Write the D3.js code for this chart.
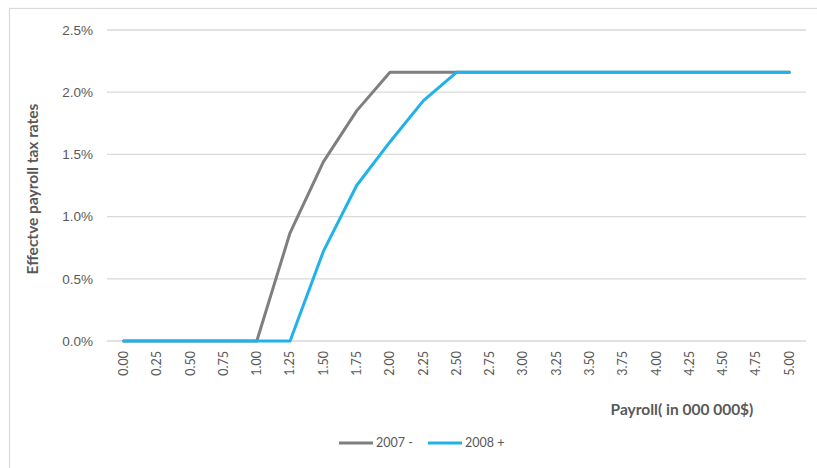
<!DOCTYPE html>
<html>
<head>
<meta charset="utf-8">
<script src="https://cdn.jsdelivr.net/npm/d3@7"></script>
<style>
  html, body { margin: 0; padding: 0; background: #fff; }
  svg { display: block; }
</style>
</head>
<body>
<script>
// Payroll levels (millions of $) and effective payroll tax rates (%)
const payroll = ["0.00","0.25","0.50","0.75","1.00","1.25","1.50","1.75","2.00","2.25","2.50",
                 "2.75","3.00","3.25","3.50","3.75","4.00","4.25","4.50","4.75","5.00"];
const rate2007 = [0,0,0,0,0,0.87,1.44,1.85,2.16,2.16,2.16,2.16,2.16,2.16,2.16,2.16,2.16,2.16,2.16,2.16,2.16];
const rate2008 = [0,0,0,0,0,0,0.72,1.25,1.60,1.93,2.16,2.16,2.16,2.16,2.16,2.16,2.16,2.16,2.16,2.16,2.16];
const yTicks = [0, 0.5, 1.0, 1.5, 2.0, 2.5];
const seriesNames = ["2007 -", "2008 +"];
const seriesColors = ["#7f7f7f", "#21b2ea"];

const W = 817, H = 468;
const margin = { left: 107, right: 11, top: 30, bottom: 127 };

const svg = d3.select("body").append("svg")
  .attr("width", W).attr("height", H);

// chart frame
svg.append("rect")
  .attr("x", 9.5).attr("y", 8.5)
  .attr("width", 900).attr("height", 600)
  .attr("fill", "none").attr("stroke", "#d9d9d9").attr("stroke-width", 1.2);

const x = d3.scaleBand().domain(payroll)
  .range([margin.left, W - margin.right]);
const y = d3.scaleLinear().domain([0, 2.5])
  .range([H - margin.bottom, margin.top]);

// horizontal gridlines
svg.append("g")
  .selectAll("line").data(yTicks).join("line")
  .attr("x1", margin.left).attr("x2", W - margin.right)
  .attr("y1", d => y(d)).attr("y2", d => y(d))
  .attr("stroke", "#d9d9d9").attr("stroke-width", 1.3);

// y axis labels
const yAxis = d3.axisLeft(y).tickValues(yTicks)
  .tickFormat(d => d.toFixed(1) + "%").tickSize(0).tickPadding(14);
const gy = svg.append("g").attr("transform", `translate(${margin.left},0)`).call(yAxis);
gy.select(".domain").remove();
gy.selectAll("text")
  .attr("font-family", "Liberation Sans, Arial, sans-serif")
  .attr("font-size", "13.5px").attr("fill", "#595959");

// x axis labels (rotated)
const xAxis = d3.axisBottom(x).tickSize(0).tickPadding(0);
const gx = svg.append("g").attr("transform", `translate(0,${y(0)})`).call(xAxis);
gx.select(".domain").remove();
gx.selectAll("text")
  .attr("font-family", "Lato, 'Open Sans', sans-serif")
  .attr("font-size", "12.5px").attr("fill", "#595959")
  .attr("transform", "rotate(-90)")
  .attr("text-anchor", "end")
  .attr("x", -10).attr("y", 0).attr("dy", "0.35em");

// lines
const line = d3.line()
  .x((d, i) => x(payroll[i]) + x.bandwidth() / 2)
  .y(d => y(d));

[rate2007, rate2008].forEach((s, k) => {
  svg.append("path").datum(s)
    .attr("d", line)
    .attr("fill", "none")
    .attr("stroke", seriesColors[k])
    .attr("stroke-width", 3)
    .attr("stroke-linejoin", "round")
    .attr("stroke-linecap", "round");
});

// axis titles
svg.append("text")
  .attr("transform", `translate(38,189) rotate(-90)`)
  .attr("text-anchor", "middle")
  .attr("font-family", "Lato, 'Open Sans', sans-serif")
  .attr("font-weight", "bold").attr("font-size", "15.5px")
  .attr("fill", "#595959")
  .text("Effectve payroll tax rates");

svg.append("text")
  .attr("x", 682).attr("y", 415)
  .attr("text-anchor", "middle")
  .attr("font-family", "Lato, 'Open Sans', sans-serif")
  .attr("font-weight", "bold").attr("font-size", "15.5px")
  .attr("fill", "#595959")
  .text("Payroll( in 000 000$)");

// legend
const legendX = [339, 428];
const lg = svg.append("g");
seriesNames.forEach((name, k) => {
  lg.append("line")
    .attr("x1", legendX[k]).attr("x2", legendX[k] + 34)
    .attr("y1", 443).attr("y2", 443)
    .attr("stroke", seriesColors[k]).attr("stroke-width", 3);
  lg.append("text")
    .attr("x", legendX[k] + 37).attr("y", 443).attr("dy", "0.35em")
    .attr("font-family", "Lato, 'Open Sans', sans-serif")
    .attr("font-size", "12.5px").attr("fill", "#595959")
    .text(name);
});
</script>
</body>
</html>
